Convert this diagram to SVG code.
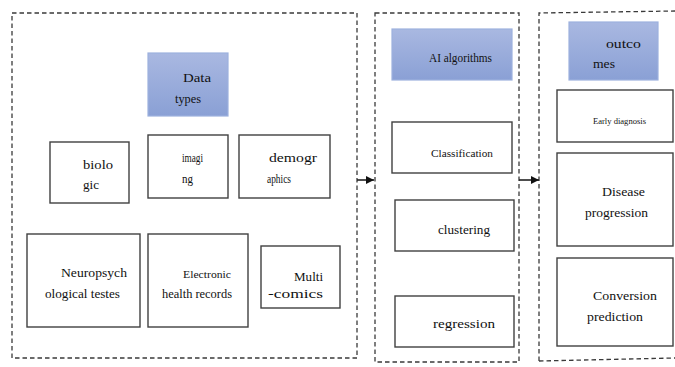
<svg xmlns="http://www.w3.org/2000/svg" width="675" height="367" viewBox="0 0 675 367">
<style>
.panel{fill:none;stroke:#3a3a3a;stroke-width:1.3;stroke-dasharray:4.5 3}
.box{fill:#ffffff;stroke:#404040;stroke-width:1.4}
.blue{fill:url(#bg);stroke:#9db1de;stroke-width:1.2}
text{font-family:'Liberation Serif','Tinos','Times New Roman','Nimbus Roman','DejaVu Serif',serif;font-size:12px;fill:#111111}
.sm{font-size:10.5px}
.xs{font-size:9px}
.conn{stroke:#222;stroke-width:1.6;fill:none}
</style>
<defs>
<linearGradient id="bg" x1="0" y1="0" x2="0" y2="1">
<stop offset="0" stop-color="#a9b8e1"/>
<stop offset="1" stop-color="#8aa0d5"/>
</linearGradient>
<marker id="ah" markerWidth="8" markerHeight="8" refX="8" refY="4" orient="auto" markerUnits="userSpaceOnUse">
<path d="M0,0 L8,4 L0,8 Z" fill="#111"/>
</marker>
</defs>

<g id="panels">
<rect id="panel-data" class="panel" x="12" y="13" width="345" height="345"/>
<rect id="panel-ai" class="panel" x="375" y="13" width="144" height="349"/>
<path id="panel-outcomes" class="panel" d="M539,361 L539,13 L675,11 M539,361 L675,358"/>
</g>

<g id="connectors">
<line class="conn" x1="357" y1="180" x2="374" y2="180" marker-end="url(#ah)"/>
<line class="conn" x1="519" y1="180" x2="539" y2="180" marker-end="url(#ah)"/>
</g>

<g id="data-types">
<rect class="blue" x="148" y="53" width="80" height="63"/>
<text x="183" y="82" textLength="28" lengthAdjust="spacingAndGlyphs">Data</text>
<text x="175" y="103" textLength="26" lengthAdjust="spacingAndGlyphs">types</text>
</g>
<g id="biologic">
<rect class="box" x="50" y="142" width="79" height="61"/>
<text x="83" y="169" textLength="30" lengthAdjust="spacingAndGlyphs">biolo</text>
<text x="83" y="189" textLength="16" lengthAdjust="spacingAndGlyphs">gic</text>
</g>
<g id="imaging">
<rect class="box" x="148" y="135" width="80" height="63"/>
<text x="182" y="162" textLength="21" lengthAdjust="spacingAndGlyphs">imagi</text>
<text x="182" y="183" textLength="11" lengthAdjust="spacingAndGlyphs">ng</text>
</g>
<g id="demographics">
<rect class="box" x="239" y="135" width="91" height="63"/>
<text x="269" y="162" textLength="48" lengthAdjust="spacingAndGlyphs">demogr</text>
<text x="267" y="183" textLength="24" lengthAdjust="spacingAndGlyphs">aphics</text>
</g>
<g id="neuropsych">
<rect class="box" x="27" y="234" width="113" height="93"/>
<text x="61" y="277" textLength="66" lengthAdjust="spacingAndGlyphs">Neuropsych</text>
<text x="45" y="298" textLength="75" lengthAdjust="spacingAndGlyphs">ological testes</text>
</g>
<g id="ehr">
<rect class="box" x="148" y="234" width="100" height="93"/>
<text class="sm" x="183" y="278" textLength="48" lengthAdjust="spacingAndGlyphs">Electronic</text>
<text x="162" y="298" textLength="70" lengthAdjust="spacingAndGlyphs">health records</text>
</g>
<g id="multi-omics">
<rect class="box" x="261" y="246" width="79" height="62"/>
<text x="294" y="281" textLength="29" lengthAdjust="spacingAndGlyphs">Multi</text>
<text x="268" y="298" textLength="55" lengthAdjust="spacingAndGlyphs">-comics</text>
</g>

<g id="ai-algorithms">
<rect class="blue" x="392" y="29" width="120" height="51"/>
<text x="429" y="62" textLength="63" lengthAdjust="spacingAndGlyphs">AI algorithms</text>
</g>
<g id="classification">
<rect class="box" x="392" y="122" width="120" height="51"/>
<text class="sm" x="431" y="157" textLength="62" lengthAdjust="spacingAndGlyphs">Classification</text>
</g>
<g id="clustering">
<rect class="box" x="395" y="200" width="119" height="51"/>
<text x="438" y="234" textLength="52" lengthAdjust="spacingAndGlyphs">clustering</text>
</g>
<g id="regression">
<rect class="box" x="395" y="296" width="119" height="51"/>
<text x="433" y="328" textLength="62" lengthAdjust="spacingAndGlyphs">regression</text>
</g>

<g id="outcomes">
<rect class="blue" x="569" y="22" width="89" height="58"/>
<text x="606" y="48" textLength="35" lengthAdjust="spacingAndGlyphs">outco</text>
<text x="593" y="68" textLength="22" lengthAdjust="spacingAndGlyphs">mes</text>
</g>
<g id="early-diagnosis">
<rect class="box" x="557" y="90" width="116" height="52"/>
<text class="xs" x="593" y="124" textLength="53" lengthAdjust="spacingAndGlyphs">Early diagnosis</text>
</g>
<g id="disease-progression">
<rect class="box" x="557" y="153" width="116" height="93"/>
<text x="602" y="196" textLength="43" lengthAdjust="spacingAndGlyphs">Disease</text>
<text x="585" y="217" textLength="63" lengthAdjust="spacingAndGlyphs">progression</text>
</g>
<g id="conversion-prediction">
<rect class="box" x="557" y="258" width="116" height="88"/>
<text x="593" y="300" textLength="64" lengthAdjust="spacingAndGlyphs">Conversion</text>
<text x="587" y="321" textLength="56" lengthAdjust="spacingAndGlyphs">prediction</text>
</g>
</svg>
